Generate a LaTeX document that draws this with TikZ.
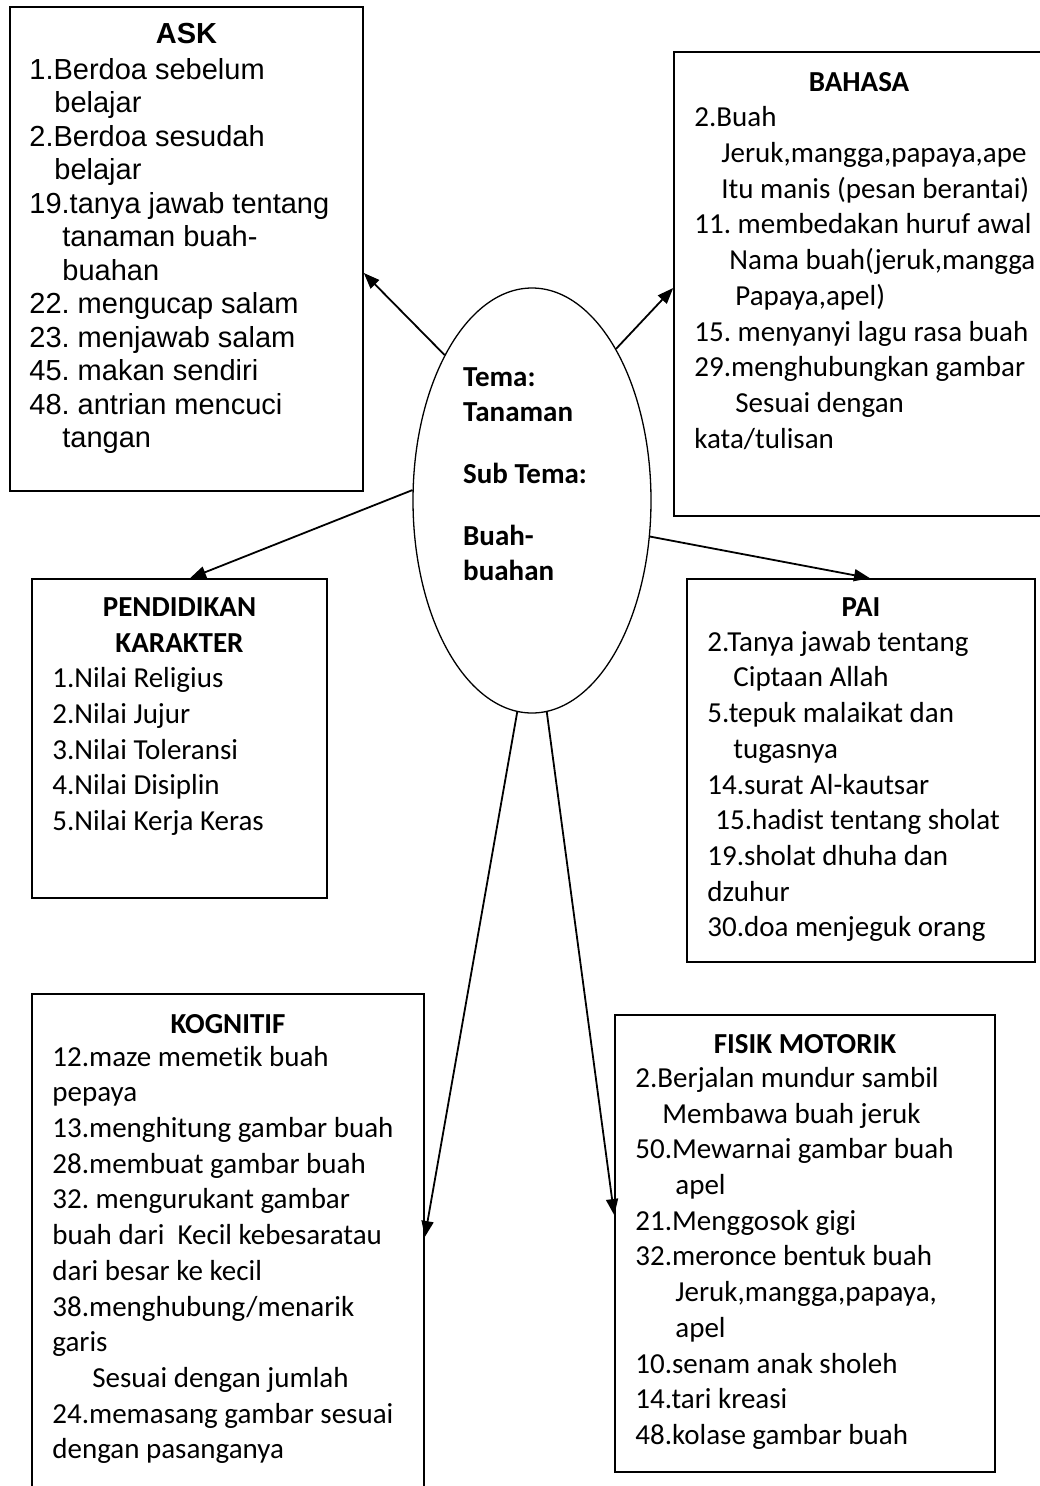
\documentclass[tikz,border=0pt]{standalone}
\usepackage{fontspec}
\setmainfont{Carlito}[Ligatures=NoCommon]
\newfontfamily\arialfont{Liberation Sans}
\frenchspacing
\usetikzlibrary{positioning, shapes.geometric, arrows.meta, calc}

\begin{document}
\begin{tikzpicture}[
    x=1pt, y=-1pt,
    % --- PLAIN STYLES ---
    box/.style={rectangle, draw, line width=1.6pt, inner sep=0pt},
    topic/.style={ellipse, draw, line width=1.3pt, inner sep=0pt, minimum width=238pt, minimum height=425pt},
    head/.style={inner sep=0pt, align=center, font=\fontsize{29}{35.7}\selectfont\bfseries},
    items/.style={inner sep=0pt, align=left, font=\fontsize{29}{35.7}\selectfont},
    link/.style={line width=1.8pt, -{Triangle[length=16pt, width=12pt]}}
]
\fill [white] (0,0) rectangle (1040,1486);
\useasboundingbox (0,0) rectangle (1040,1486);

% --- 1. CENTRAL THEME ---
\node (theme) [topic] at (532,500.5) {};
\node (themetext) [items, font=\fontsize{29}{35.7}\selectfont\bfseries, anchor=north west] at ($(theme.center)+(-69,-139.5)$)
    {\strut Tema:\\Tanaman\\[26pt]Sub Tema:\\[26pt]Buah-\\buahan};

% --- 2. ASK (top left) ---
\node (ask) [box, minimum width=353pt, minimum height=484pt] at (186.5,249) {};
\node (asktitle) [head, font=\arialfont\fontsize{29}{33.5}\selectfont\bfseries, below=17.2pt of ask.north] {ASK};
\node (asklist) [items, font=\arialfont\fontsize{29}{33.5}\selectfont, below right=49.5pt and 20pt of ask.north west]
    {\strut 1.Berdoa sebelum\\
     \hspace*{25pt}belajar\\
     2.Berdoa sesudah\\
     \hspace*{25pt}belajar\\
     19.tanya jawab tentang\\
     \hspace*{33pt}tanaman buah-\\
     \hspace*{33pt}buahan\\
     22. mengucap salam\\
     23. menjawab salam\\
     45. makan sendiri\\
     48. antrian mencuci\\
     \hspace*{33pt}tangan};

% --- 3. BAHASA (top right) ---
\node (bahasa) [box, minimum width=370pt, minimum height=464pt] at (859,284) {};
\node (bahasatitle) [head, below=21.3pt of bahasa.north] {BAHASA};
\node (bahasalist) [items, below right=50.5pt and 21pt of bahasa.north west]
    {\strut 2.Buah\\
     \hspace*{27pt}Jeruk,mangga,papaya,ape\\
     \hspace*{27pt}Itu manis (pesan berantai)\\
     11. membedakan huruf awal\\
     \hspace*{35pt}Nama buah(jeruk,mangga\\
     \hspace*{41pt}Papaya,apel)\\
     15. menyanyi lagu rasa buah\\
     29.menghubungkan gambar\\
     \hspace*{41pt}Sesuai dengan\\
     kata/tulisan};

% --- 4. PENDIDIKAN KARAKTER (middle left) ---
\node (karakter) [box, minimum width=295pt, minimum height=319pt] at (179.5,738.5) {};
\node (karaktertitle) [head, below=19.3pt of karakter.north] {PENDIDIKAN\\KARAKTER};
\node (karakterlist) [items, below right=84.2pt and 21pt of karakter.north west]
    {\strut 1.Nilai Religius\\
     2.Nilai Jujur\\
     3.Nilai Toleransi\\
     4.Nilai Disiplin\\
     5.Nilai Kerja Keras};

% --- 5. PAI (middle right) ---
\node (pai) [box, minimum width=348pt, minimum height=383pt] at (861,770.5) {};
\node (paititle) [head, below=19pt of pai.north] {PAI};
\node (pailist) [items, below right=47.8pt and 21pt of pai.north west]
    {\strut 2.Tanya jawab tentang\\
     \hspace*{26pt}Ciptaan Allah\\
     5.tepuk malaikat dan\\
     \hspace*{26pt}tugasnya\\
     14.surat Al-kautsar\\
     \hspace*{8pt}15.hadist tentang sholat\\
     19.sholat dhuha dan\\
     dzuhur\\
     30.doa menjeguk orang};

% --- 6. KOGNITIF (bottom left) ---
\node (kognitif) [box, minimum width=392pt, minimum height=506pt] at (228,1247) {};
\node (kognitiftitle) [head, below=21pt of kognitif.north] {KOGNITIF};
\node (kognitiflist) [items, below right=47.7pt and 21pt of kognitif.north west]
    {\strut 12.maze memetik buah\\
     pepaya\\
     13.menghitung gambar buah\\
     28.membuat gambar buah\\
     32. mengurukant gambar\\
     buah dari\ \ Kecil kebesaratau\\
     dari besar ke kecil\\
     38.menghubung/menarik\\
     garis\\
     \hspace*{40pt}Sesuai dengan jumlah\\
     24.memasang gambar sesuai\\
     dengan pasanganya};

% --- 7. FISIK MOTORIK (bottom right) ---
\node (fisik) [box, minimum width=380pt, minimum height=457pt] at (805,1243.5) {};
\node (fisiktitle) [head, below=20pt of fisik.north] {FISIK MOTORIK};
\node (fisiklist) [items, below right=48pt and 21pt of fisik.north west]
    {\strut 2.Berjalan mundur sambil\\
     \hspace*{27pt}Membawa buah jeruk\\
     50.Mewarnai gambar buah\\
     \hspace*{40pt}apel\\
     21.Menggosok gigi\\
     32.meronce bentuk buah\\
     \hspace*{40pt}Jeruk,mangga,papaya,\\
     \hspace*{40pt}apel\\
     10.senam anak sholeh\\
     14.tari kreasi\\
     48.kolase gambar buah};

% --- ARROWS OUT OF THE THEME ---
\draw [link] (theme.121.6) -- ($(ask.east)+(0,24)$);
\draw [link] (theme.61.9) -- ($(bahasa.west)+(0,4)$);
\draw [link] (theme.175) -- ($(karakter.north)+(10.5,0)$);
\draw [link] (theme.343) -- ($(pai.north)+(9,0)$);
\draw [link] (theme.266) -- ($(kognitif.east)+(0,-10)$);
\draw [link] (theme.274.3) -- ($(fisik.west)+(0,-28.5)$);

\end{tikzpicture}
\end{document}
